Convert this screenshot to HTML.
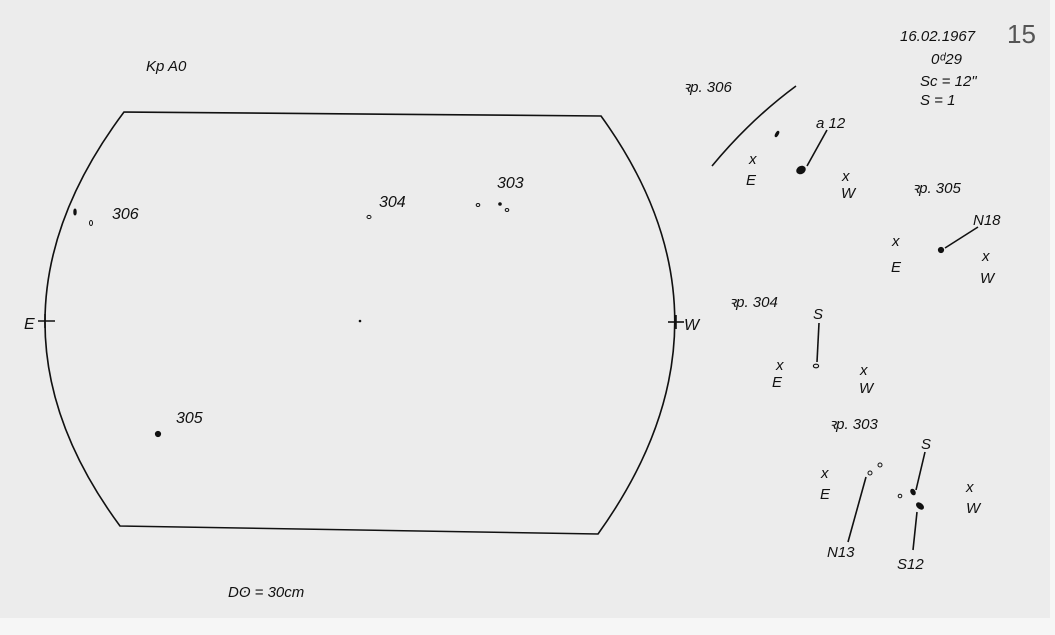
<!DOCTYPE html>
<html><head><meta charset="utf-8"><style>
html,body{margin:0;padding:0;background:#f4f4f4;}
svg{display:block}
text{font-family:"Liberation Sans",sans-serif;font-style:italic;fill:#111;font-size:15px}
</style></head><body>
<svg width="1055" height="635" viewBox="0 0 1055 635" xmlns="http://www.w3.org/2000/svg">
<rect x="0" y="0" width="1055" height="635" fill="#f6f6f6"/>
<rect x="0" y="0" width="1050" height="618" fill="#ececec"/>
<g fill="none" stroke="#111" stroke-width="1.6">
<path d="M124 112 L601 116 Q750 322 598 534 L120 526 Q-32 320 124 112 Z"/>
<line x1="38" y1="321" x2="55" y2="321"/><line x1="45" y1="314" x2="45" y2="328"/>
<line x1="668" y1="322" x2="684" y2="322"/><line x1="676" y1="315" x2="676" y2="329"/>
<path d="M712 166 Q750 120 796 86"/>
<line x1="827" y1="130" x2="807" y2="166"/>
<line x1="978" y1="227" x2="945" y2="248"/>
<line x1="819" y1="323" x2="817" y2="362"/>
<line x1="866" y1="477" x2="848" y2="542"/>
<line x1="925" y1="452" x2="916" y2="490"/>
<line x1="917" y1="512" x2="913" y2="550"/>
</g>
<g fill="#111" stroke="#111">
<ellipse cx="75" cy="212" rx="1.2" ry="3"/>
<ellipse cx="91" cy="223" rx="1.5" ry="2.5" fill="none" stroke-width="1"/>
<ellipse cx="369" cy="217" rx="2" ry="1.6" fill="none" stroke-width="1"/>
<ellipse cx="478" cy="205" rx="1.8" ry="1.5" fill="none" stroke-width="1"/>
<circle cx="500" cy="204" r="1.3"/>
<ellipse cx="507" cy="210" rx="1.8" ry="1.5" fill="none" stroke-width="1"/>
<circle cx="158" cy="434" r="2.6"/>
<circle cx="360" cy="321" r="0.8"/>
<ellipse cx="777" cy="134" rx="1.2" ry="3" transform="rotate(30 777 134)"/>
<ellipse cx="801" cy="170" rx="4.5" ry="3.5" transform="rotate(-30 801 170)"/>
<circle cx="941" cy="250" r="2.6"/>
<ellipse cx="816" cy="366" rx="2.6" ry="1.8" fill="none" stroke-width="1.2"/>
<circle cx="870" cy="473" r="2" fill="none" stroke-width="1"/>
<circle cx="880" cy="465" r="2" fill="none" stroke-width="1"/>
<circle cx="900" cy="496" r="1.8" fill="none" stroke-width="1"/>
<ellipse cx="913" cy="492" rx="2" ry="3" transform="rotate(-30 913 492)"/>
<ellipse cx="920" cy="506" rx="2.5" ry="4" transform="rotate(-50 920 506)"/>
</g>
<text x="146" y="71">Kp A0</text>
<text x="112" y="219" style="font-size:16px">306</text>
<text x="379" y="207" style="font-size:16px">304</text>
<text x="497" y="188" style="font-size:16px">303</text>
<text x="176" y="423" style="font-size:16px">305</text>
<text x="24" y="329" style="font-size:16px">E</text>
<text x="684" y="330" style="font-size:16px">W</text>
<text x="228" y="597">Dʘ = 30cm</text>
<text x="900" y="41">16.02.1967</text>
<text x="1007" y="43" style="font-style:normal;font-size:26px;fill:#555;stroke:none">15</text>
<text x="931" y="64">0ᵈ29</text>
<text x="920" y="86">Sc = 12"</text>
<text x="920" y="105">S  = 1</text>
<text x="683" y="92">ꝛp. 306</text>
<text x="816" y="128">a 12</text>
<text x="749" y="164">x</text><text x="746" y="185">E</text>
<text x="842" y="181">x</text><text x="841" y="198">W</text>
<text x="912" y="193">ꝛp. 305</text>
<text x="973" y="225">N18</text>
<text x="892" y="246">x</text><text x="891" y="272">E</text>
<text x="982" y="261">x</text><text x="980" y="283">W</text>
<text x="729" y="307">ꝛp. 304</text>
<text x="813" y="319">S</text>
<text x="776" y="370">x</text><text x="772" y="387">E</text>
<text x="860" y="375">x</text><text x="859" y="393">W</text>
<text x="829" y="429">ꝛp. 303</text>
<text x="921" y="449">S</text>
<text x="821" y="478">x</text><text x="820" y="499">E</text>
<text x="966" y="492">x</text><text x="966" y="513">W</text>
<text x="827" y="557">N13</text>
<text x="897" y="569">S12</text>
</svg>
</body></html>
